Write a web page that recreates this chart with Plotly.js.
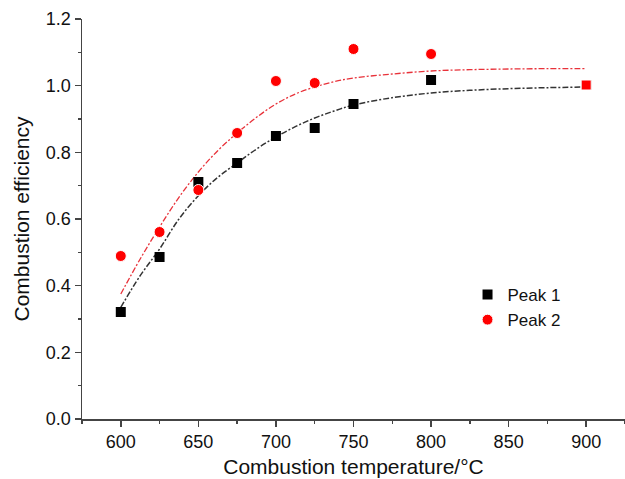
<!DOCTYPE html>
<html>
<head>
<meta charset="utf-8">
<script src="https://cdn.plot.ly/plotly-3.0.1.min.js"></script>
<style>html,body{margin:0;padding:0;background:#fff;}#chart{width:625px;height:479px;}</style>
</head>
<body>
<div id="chart"></div>
<script>
// Measured data
const temps = [600, 625, 650, 675, 700, 725, 750, 800, 900];
const peak1 = [0.321, 0.486, 0.711, 0.768, 0.849, 0.873, 0.945, 1.017, 1.002];
const peak2 = [0.489, 0.561, 0.687, 0.858, 1.014, 1.008, 1.110, 1.095, 1.002];

// Fitted curves
const fit1X = [600, 612.5, 625, 637.5, 650, 662.5, 675, 687.5, 700, 712.5, 725, 737.5, 750, 775, 800, 825, 850, 875, 900];
const fit1Y = [0.335, 0.43, 0.51, 0.60, 0.67, 0.725, 0.768, 0.81, 0.846, 0.877, 0.903, 0.924, 0.942, 0.964, 0.978, 0.986, 0.991, 0.994, 0.996];
const fit2X = [600, 612.5, 625, 637.5, 650, 662.5, 675, 687.5, 700, 712.5, 725, 737.5, 750, 775, 800, 825, 850, 875, 900];
const fit2Y = [0.375, 0.48, 0.576, 0.665, 0.741, 0.805, 0.858, 0.905, 0.945, 0.975, 0.996, 1.012, 1.023, 1.035, 1.044, 1.048, 1.050, 1.051, 1.051];

const seriesNames = ['Peak 1', 'Peak 2'];

const traces = [
  {x: fit1X, y: fit1Y, mode: 'lines', line: {color: '#333', width: 1.5, dash: '6px,2px,2px,2px', shape: 'spline'}, showlegend: false, hoverinfo: 'skip'},
  {x: fit2X, y: fit2Y, mode: 'lines', line: {color: '#e8323a', width: 1.3, dash: '6px,2px,2px,2px', shape: 'spline'}, showlegend: false, hoverinfo: 'skip'},
  {x: temps, y: peak1, name: seriesNames[0], mode: 'markers', marker: {symbol: 'square', size: 10, color: '#000', opacity: 1}},
  {x: temps, y: peak2, name: seriesNames[1], mode: 'markers', marker: {symbol: ['circle','circle','circle','circle','circle','circle','circle','circle','square'], size: [11,11,11,11,11,11,11,11,10], color: '#ff0000', opacity: 1}}
];

const FAM = 'Liberation Sans, Arial, sans-serif';
const tickFont = {family: FAM, size: 18, color: '#111'};

const layout = {
  width: 625, height: 479,
  margin: {l: 82, r: 0, t: 19, b: 60},
  paper_bgcolor: '#fff', plot_bgcolor: '#fff',
  showlegend: true,
  legend: {x: 0.71, y: 0.355, xanchor: 'left', yanchor: 'top', font: {family: FAM, size: 17, color: '#111'}, bgcolor: 'rgba(0,0,0,0)', itemwidth: 30, tracegroupgap: 0},
  xaxis: {
    range: [575, 925], tickvals: [600, 650, 700, 750, 800, 850, 900],
    ticks: 'outside', ticklen: 6, tickwidth: 1.5, tickcolor: '#444',
    showline: true, linecolor: '#444', linewidth: 1.5, showgrid: false, zeroline: false,
    tickfont: tickFont,
    minor: {ticks: 'outside', ticklen: 3, tickwidth: 1.5, tickcolor: '#444', dtick: 25, tick0: 575, showgrid: false},
    title: {text: 'Combustion temperature/°C', font: {family: FAM, size: 21, color: '#111'}, standoff: 8}
  },
  yaxis: {
    range: [0, 1.2], tickvals: [0, 0.2, 0.4, 0.6, 0.8, 1.0, 1.2], ticktext: ['0.0','0.2','0.4','0.6','0.8','1.0','1.2'],
    ticks: 'outside', ticklen: 6, tickwidth: 1.5, tickcolor: '#444',
    showline: true, linecolor: '#444', linewidth: 1.5, showgrid: false, zeroline: false,
    tickfont: tickFont,
    minor: {ticks: 'outside', ticklen: 3, tickwidth: 1.5, tickcolor: '#444', dtick: 0.1, tick0: 0, showgrid: false},
    title: {text: 'Combustion efficiency', font: {family: FAM, size: 21, color: '#111'}, standoff: 10}
  }
};

Plotly.newPlot('chart', traces, layout, {displayModeBar: false, staticPlot: true});
</script>
</body>
</html>
